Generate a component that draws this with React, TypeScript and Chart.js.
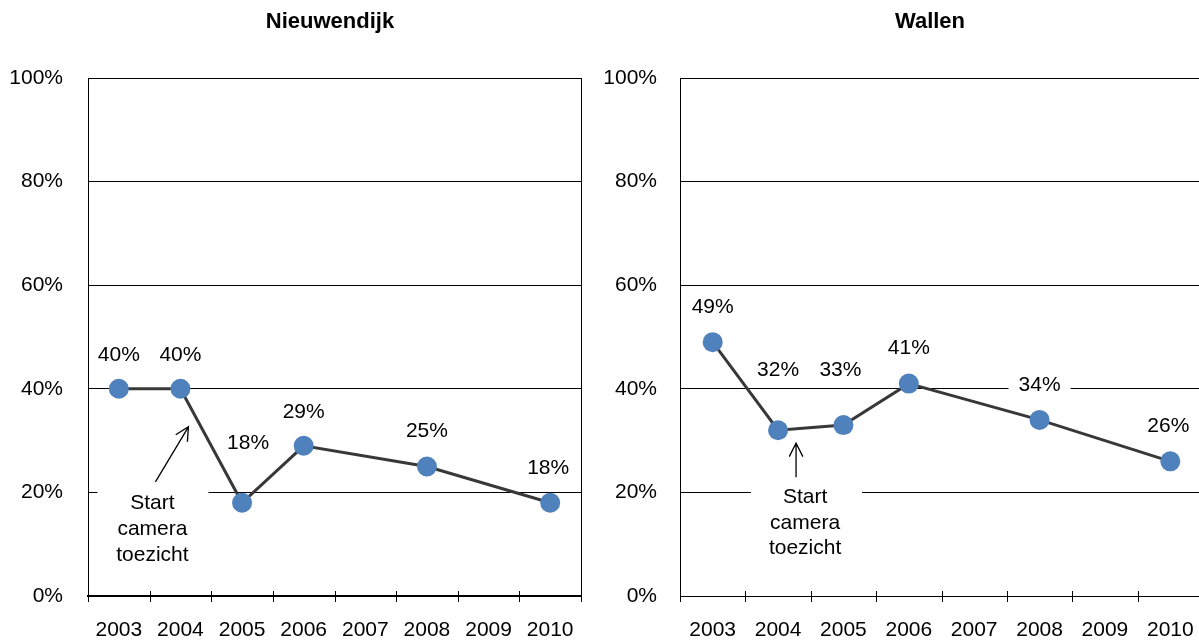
import React, { useEffect, useRef } from "react";
import { Chart, registerables } from "chart.js";

Chart.register(...registerables);

// ---- data ----
const years = ["2003", "2004", "2005", "2006", "2007", "2008", "2009", "2010"];
const nieuwendijkValues = [40, 40, 18, 29, null, 25, null, 18];
const wallenValues = [49, 32, 33, 41, null, 34, null, 26];
const yTickValues = [0, 20, 40, 60, 80, 100];
const noteLines = ["Start", "camera", "toezicht"];
const noteYear = "2004";

// ---- styling ----
const FONT_FAMILY = '"Liberation Sans", Arial, Helvetica, sans-serif';
const FONT_SIZE = 21;
const POINT_COLOR = "#4F81BD";
const LINE_COLOR = "#383838";
const CANVAS_H = 643;

type Offset = { dx: number; dy: number };

type Note = {
  box: { dx: number; dy: number; w: number; h: number };
  text: { dx: number; dy: number; gap: number };
  arrow: { x0: number; y0: number; x1: number; y1: number };
};

type Panel = {
  title: string;
  titleX: number;
  values: (number | null)[];
  labelOffsets: (Offset | null)[];
  canvasW: number;
  axisW: number;
  padRight: number;
  yLabelGap: number;
  xAxisWidth: number;
  note: Note;
};

const leftPanel: Panel = {
  title: "Nieuwendijk",
  titleX: 330,
  values: nieuwendijkValues,
  labelOffsets: [
    { dx: 0, dy: -34 },
    { dx: 0, dy: -34 },
    { dx: 6, dy: -60 },
    { dx: 0, dy: -34 },
    null,
    { dx: 0, dy: -35 },
    null,
    { dx: -2, dy: -35 },
  ],
  canvasW: 600,
  axisW: 88,
  padRight: 19,
  yLabelGap: 25,
  xAxisWidth: 2,
  note: {
    box: { dx: -83, dy: 97, w: 111, h: 86 },
    text: { dx: -28, dy: 114, gap: 26 },
    arrow: { x0: -25, y0: 93, x1: 8, y1: 38 },
  },
};

const rightPanel: Panel = {
  title: "Wallen",
  titleX: 330,
  values: wallenValues,
  labelOffsets: [
    { dx: 0, dy: -35 },
    { dx: 0, dy: -60 },
    { dx: -3, dy: -55 },
    { dx: 0, dy: -35 },
    null,
    { dx: 0, dy: -35 },
    null,
    { dx: -2, dy: -35 },
  ],
  canvasW: 620,
  axisW: 80,
  padRight: 17,
  yLabelGap: 23,
  xAxisWidth: 1,
  note: {
    box: { dx: -27, dy: 56, w: 111, h: 86 },
    text: { dx: 27, dy: 67, gap: 25.5 },
    arrow: { x0: 18, y0: 47, x1: 18, y1: 13 },
  },
};

function drawArrow(ctx: CanvasRenderingContext2D, x0: number, y0: number, x1: number, y1: number) {
  const ang = Math.atan2(y1 - y0, x1 - x0);
  const head = 15;
  const spread = (27 * Math.PI) / 180;
  ctx.beginPath();
  ctx.moveTo(x0, y0);
  ctx.lineTo(x1, y1);
  ctx.moveTo(x1 - head * Math.cos(ang - spread), y1 - head * Math.sin(ang - spread));
  ctx.lineTo(x1, y1);
  ctx.lineTo(x1 - head * Math.cos(ang + spread), y1 - head * Math.sin(ang + spread));
  ctx.stroke();
}

function makePlugin(panel: Panel) {
  const font = `${FONT_SIZE}px ${FONT_FAMILY}`;
  return {
    id: "panelDecor",
    beforeDatasetsDraw(chart: any) {
      const { ctx, chartArea } = chart;
      const xs = chart.scales.x;
      const meta = chart.getDatasetMeta(0);
      ctx.save();

      // white boxes behind value labels (they hide the gridlines beneath)
      ctx.font = font;
      panel.values.forEach((v, i) => {
        const off = panel.labelOffsets[i];
        if (v === null || !off) return;
        const pt = meta.data[i];
        const w = ctx.measureText(`${v}%`).width + 20;
        ctx.fillStyle = "#fff";
        ctx.fillRect(pt.x + off.dx - w / 2, pt.y + off.dy - 13, w, 26);
      });

      // white box behind the note
      const idx = years.indexOf(noteYear);
      const anchor = meta.data[idx];
      const b = panel.note.box;
      ctx.fillStyle = "#fff";
      ctx.fillRect(anchor.x + b.dx, anchor.y + b.dy, b.w, b.h);

      // plot frame
      ctx.strokeStyle = "#000";
      ctx.lineWidth = 1;
      ctx.strokeRect(
        chartArea.left + 0.5,
        chartArea.top + 0.5,
        chartArea.right - chartArea.left,
        chartArea.bottom - chartArea.top
      );
      // tick marks crossing the category axis at category boundaries
      const n = years.length;
      const step = (xs.right - xs.left) / n;
      ctx.beginPath();
      for (let i = 0; i <= n; i++) {
        const x = Math.round(xs.left + i * step) + 0.5;
        ctx.moveTo(x, chartArea.bottom - 5);
        ctx.lineTo(x, chartArea.bottom + 6);
      }
      ctx.stroke();
      ctx.restore();
    },
    afterDatasetsDraw(chart: any) {
      const { ctx } = chart;
      const meta = chart.getDatasetMeta(0);
      ctx.save();
      ctx.font = font;
      ctx.fillStyle = "#000";
      ctx.textAlign = "center";
      ctx.textBaseline = "middle";
      panel.values.forEach((v, i) => {
        const off = panel.labelOffsets[i];
        if (v === null || !off) return;
        const pt = meta.data[i];
        ctx.fillText(`${v}%`, pt.x + off.dx, pt.y + off.dy);
      });

      const idx = years.indexOf(noteYear);
      const anchor = meta.data[idx];
      const t = panel.note.text;
      noteLines.forEach((line, k) => {
        ctx.fillText(line, anchor.x + t.dx, anchor.y + t.dy + k * t.gap);
      });
      const a = panel.note.arrow;
      ctx.strokeStyle = "#000";
      ctx.lineWidth = 1.3;
      drawArrow(ctx, anchor.x + a.x0, anchor.y + a.y0, anchor.x + a.x1, anchor.y + a.y1);

      // panel title
      ctx.font = `bold 22px ${FONT_FAMILY}`;
      ctx.fillText(panel.title, panel.titleX, 22);
      ctx.restore();
    },
  };
}

function buildChart(canvas: HTMLCanvasElement, panel: Panel) {
  return new Chart(canvas, {
    type: "line",
    data: {
      labels: years,
      datasets: [
        {
          data: panel.values,
          borderColor: LINE_COLOR,
          borderWidth: 3,
          pointRadius: 10,
          pointHoverRadius: 10,
          pointBackgroundColor: POINT_COLOR,
          pointBorderColor: POINT_COLOR,
          pointBorderWidth: 0,
          spanGaps: true,
          tension: 0,
          fill: false,
        },
      ],
    },
    options: {
      responsive: false,
      animation: false,
      devicePixelRatio: 1,
      layout: { padding: { top: 78, right: panel.padRight, bottom: 0, left: 0 } },
      plugins: {
        legend: { display: false },
        title: { display: false },
        tooltip: { enabled: false },
      },
      events: [],
      scales: {
        x: {
          type: "category",
          offset: true,
          grid: { display: false, drawTicks: false },
          border: { display: true, color: "#000", width: panel.xAxisWidth },
          ticks: {
            color: "#000",
            padding: 22,
            maxRotation: 0,
            autoSkip: false,
            font: { family: FONT_FAMILY, size: FONT_SIZE },
          },
          afterFit: (s: any) => {
            s.height = CANVAS_H - 596;
          },
        },
        y: {
          min: 0,
          max: 100,
          afterBuildTicks: (s: any) => {
            s.ticks = yTickValues.map((v) => ({ value: v }));
          },
          grid: { color: "#000", lineWidth: 1, drawTicks: false },
          border: { display: true, color: "#000", width: 1 },
          ticks: {
            color: "#000",
            padding: panel.yLabelGap,
            font: { family: FONT_FAMILY, size: FONT_SIZE },
            callback: (v: any) => `${v}%`,
          },
          afterFit: (s: any) => {
            s.width = panel.axisW;
          },
        },
      },
    },
    plugins: [makePlugin(panel)],
  } as any);
}

export default function App() {
  const leftRef = useRef<HTMLCanvasElement>(null);
  const rightRef = useRef<HTMLCanvasElement>(null);

  useEffect(() => {
    const charts: Chart[] = [];
    if (leftRef.current) charts.push(buildChart(leftRef.current, leftPanel));
    if (rightRef.current) charts.push(buildChart(rightRef.current, rightPanel));
    return () => charts.forEach((c) => c.destroy());
  }, []);

  return (
    <div
      style={{
        position: "fixed",
        left: 0,
        top: 0,
        width: 1199,
        height: CANVAS_H,
        overflow: "hidden",
        background: "#fff",
      }}
    >
      <canvas
        ref={leftRef}
        width={leftPanel.canvasW}
        height={CANVAS_H}
        style={{ position: "absolute", left: 0, top: 0 }}
      />
      <canvas
        ref={rightRef}
        width={rightPanel.canvasW}
        height={CANVAS_H}
        style={{ position: "absolute", left: 600, top: 0 }}
      />
    </div>
  );
}
